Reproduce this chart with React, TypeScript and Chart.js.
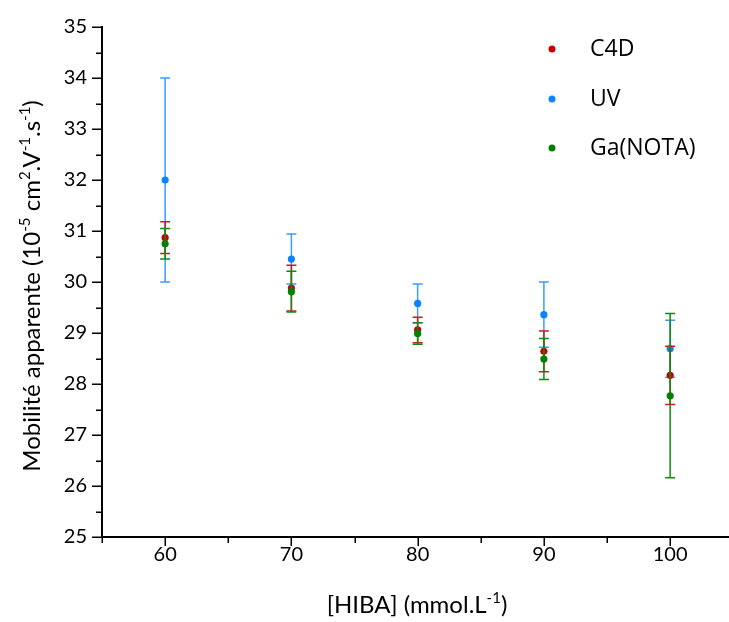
import React, { useEffect, useRef } from "react";
import { Chart, registerables } from "chart.js";

Chart.register(...registerables);

const categories = [60, 70, 80, 90, 100];
const c4d = [30.87, 29.88, 29.06, 28.64, 28.17];
const c4dErr = [0.31, 0.45, 0.25, 0.4, 0.57];
const uv = [32.0, 30.45, 29.58, 29.36, 28.69];
const uvErr = [2.0, 0.49, 0.38, 0.64, 0.56];
const ga = [30.75, 29.81, 28.99, 28.49, 27.77];
const gaErr = [0.3, 0.4, 0.21, 0.4, 1.61];

const seriesNames = ["C4D", "UV", "Ga(NOTA)"];
const seriesColors = ["#c80000", "#0a84ff", "#008000"];
const barColors = ["#d11a1a", "#3c9cff", "#108a10"];

const yTicks = [25, 26, 27, 28, 29, 30, 31, 32, 33, 34, 35];
const xTicks = [60, 70, 80, 90, 100];
const xMinorTicks = [55, 65, 75, 85, 95];

const xTitle: [string, boolean][] = [["[HIBA] (mmol.L", false], ["-1", true], [")", false]];
const yTitle: [string, boolean][] = [
  ["Mobilité apparente (10", false],
  ["-5", true],
  [" cm", false],
  ["2", true],
  [".V", false],
  ["-1", true],
  [".s", false],
  ["-1", true],
  [")", false],
];

const TITLE_FONT = "Lato";
const TITLE_SIZE = 24;

function drawRich(ctx: CanvasRenderingContext2D, parts: [string, boolean][], cx: number, cy: number) {
  const main = `${TITLE_SIZE}px ${TITLE_FONT}`;
  const sup = `${Math.round(TITLE_SIZE * 0.62)}px ${TITLE_FONT}`;
  let total = 0;
  for (const [t, s] of parts) {
    ctx.font = s ? sup : main;
    total += ctx.measureText(t).width;
  }
  let x = cx - total / 2;
  ctx.textBaseline = "alphabetic";
  ctx.textAlign = "left";
  for (const [t, s] of parts) {
    ctx.font = s ? sup : main;
    ctx.fillText(t, x, s ? cy - TITLE_SIZE * 0.42 : cy);
    x += ctx.measureText(t).width;
  }
}

const errPlugin = {
  id: "errbars",
  beforeDatasetDraw(chart: any, args: any) {
    const ds = chart.data.datasets[args.index];
    const errs: number[] = ds.errors;
    const ys = chart.scales.y;
    const ctx = chart.ctx;
    ctx.save();
    ctx.strokeStyle = ds.barColor;
    ctx.lineWidth = 1.5;
    args.meta.data.forEach((pt: any, i: number) => {
      const v = ds.data[i].y;
      const top = ys.getPixelForValue(v + errs[i]);
      const bot = ys.getPixelForValue(v - errs[i]);
      const x = pt.x;
      ctx.beginPath();
      ctx.moveTo(x, top);
      ctx.lineTo(x, bot);
      ctx.moveTo(x - 5, top);
      ctx.lineTo(x + 5, top);
      ctx.moveTo(x - 5, bot);
      ctx.lineTo(x + 5, bot);
      ctx.stroke();
    });
    ctx.restore();
  },
};

const decorPlugin = {
  id: "decor",
  afterDraw(chart: any) {
    const ctx = chart.ctx;
    const xs = chart.scales.x;
    const ys = chart.scales.y;
    const { left, bottom, top } = chart.chartArea;
    ctx.save();
    ctx.strokeStyle = "#000";
    ctx.lineWidth = 1.5;
    ctx.beginPath();
    for (let v = 25; v <= 35; v += 1) {
      const y = Math.round(ys.getPixelForValue(v)) + 0.25;
      ctx.moveTo(left - 10, y);
      ctx.lineTo(left, y);
    }
    for (let v = 25.5; v < 35; v += 1) {
      const y = Math.round(ys.getPixelForValue(v)) + 0.25;
      ctx.moveTo(left - 6, y);
      ctx.lineTo(left, y);
    }
    xTicks.forEach((v) => {
      const x = Math.round(xs.getPixelForValue(v)) + 0.25;
      ctx.moveTo(x, bottom);
      ctx.lineTo(x, bottom + 9);
    });
    xMinorTicks.forEach((v) => {
      const x = Math.round(xs.getPixelForValue(v)) + 0.25;
      ctx.moveTo(x, bottom);
      ctx.lineTo(x, bottom + 6);
    });
    ctx.stroke();

    // legend
    const ly = [49, 99, 148];
    seriesNames.forEach((n, i) => {
      ctx.fillStyle = seriesColors[i];
      ctx.beginPath();
      ctx.arc(552, ly[i], 3.5, 0, Math.PI * 2);
      ctx.fill();
      ctx.fillStyle = "#000";
      ctx.font = "23px 'Open Sans'";
      ctx.textAlign = "left";
      ctx.textBaseline = "middle";
      ctx.fillText(n, 590, ly[i]);
    });

    // titles
    ctx.fillStyle = "#000";
    drawRich(ctx, xTitle, 417, 613);
    ctx.save();
    ctx.translate(40, (top + bottom) / 2 + 4);
    ctx.rotate(-Math.PI / 2);
    drawRich(ctx, yTitle, 0, 0);
    ctx.restore();
    ctx.restore();
  },
};

export default function App() {
  const ref = useRef<HTMLCanvasElement | null>(null);
  useEffect(() => {
    document.body.style.margin = "0";
    document.body.style.overflow = "hidden";
    const mk = (name: string, vals: number[], errs: number[], idx: number) => ({
      label: name,
      data: categories.map((c, i) => ({ x: c, y: vals[i] })),
      errors: errs,
      barColor: barColors[idx],
      backgroundColor: seriesColors[idx],
      borderColor: seriesColors[idx],
      pointRadius: 3.6,
      pointBorderWidth: 0,
      showLine: false,
    });
    const chart = new Chart(ref.current as HTMLCanvasElement, {
      type: "scatter",
      data: {
        datasets: [mk("Ga(NOTA)", ga, gaErr, 2), mk("C4D", c4d, c4dErr, 0), mk("UV", uv, uvErr, 1)] as any,
      },
      options: {
        animation: false,
        responsive: false,
        layout: { padding: { top: 26, right: 0, left: 0, bottom: 0 } },
        plugins: { legend: { display: false }, tooltip: { enabled: false } },
        scales: {
          x: {
            type: "linear",
            min: 55,
            max: 104.66,
            grid: { display: false, drawTicks: false },
            border: { display: true, color: "#000", width: 2 },
            afterBuildTicks: (s: any) => {
              s.ticks = xTicks.map((v) => ({ value: v }));
            },
            afterFit: (s: any) => {
              s.height = 85;
            },
            ticks: {
              padding: 6,
              color: "#000",
              font: { family: "Lato", size: 20 },
              callback: (v: any) => String(v),
            },
          },
          y: {
            type: "linear",
            min: 25,
            max: 35,
            grid: { display: false, drawTicks: false },
            border: { display: true, color: "#000", width: 2 },
            afterBuildTicks: (s: any) => {
              s.ticks = yTicks.map((v) => ({ value: v }));
            },
            afterFit: (s: any) => {
              s.width = 102;
            },
            ticks: {
              padding: 15,
              color: "#000",
              font: { family: "Lato", size: 20 },
              callback: (v: any) => String(v),
            },
          },
        },
      } as any,
      plugins: [errPlugin, decorPlugin],
    });
    return () => chart.destroy();
  }, []);
  return <canvas ref={ref} width={733} height={622} style={{ display: "block" }} />;
}
